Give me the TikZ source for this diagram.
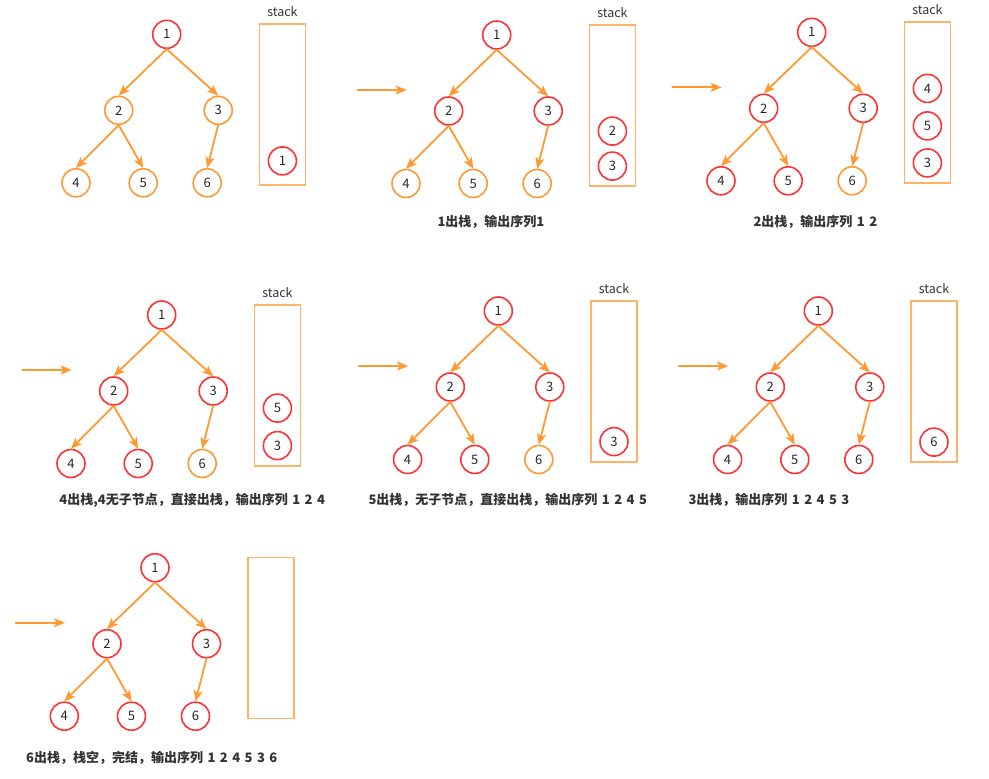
\documentclass[tikz,border=0pt]{standalone}
\usepackage{fontspec}
\setmainfont{Noto Sans CJK SC}[WordSpace=1.5]
\usetikzlibrary{arrows.meta, positioning}
\definecolor{treered}{HTML}{FF3333}
\definecolor{treeorange}{HTML}{FF9933}
\definecolor{stackorange}{HTML}{FFB366}
\definecolor{captiongray}{HTML}{333333}

\begin{document}
\begin{tikzpicture}[x=1pt, y=-1pt, line cap=round,
        treenode/.style={circle, line width=1.6pt, minimum size=28pt, inner sep=0pt, text=black!85, font=\fontsize{13}{13}\selectfont},
        rednode/.style={treenode, draw=treered},
        orangenode/.style={treenode, draw=treeorange},
        stackbox/.style={draw=stackorange, line width=1.6pt, minimum width=46pt, minimum height=161pt, inner sep=0pt},
        stacklabel/.style={inner sep=0pt, text=black!80, font=\fontsize{12.5}{12.5}\selectfont},
        edge/.style={treeorange, line width=1.8pt, -{Stealth[length=11pt, width=9pt, inset=2.5pt]}},
        caption/.style={anchor=west, inner sep=0pt, text=captiongray, font=\fontsize{13}{13}\selectfont\bfseries}]
        \useasboundingbox (0,0) rectangle (989,779);
        \foreach \n/\x/\y/\r/\lab in {1/166.7/34.3/1/stack, 2/496.7/35/3/stack, 3/811.7/32.3/5/stack, 4/161.7/315/5/stack, 5/498.3/311/5/stack, 6/818.3/311/6/stack, 7/155/567.7/6/{}} {
            \begin{scope}[shift={(\x,\y)}]
                \foreach \k/\a/\b in {1/0/0, 2/-48/76, 3/51.5/76, 4/-90.7/148.5, 5/-23.5/148.5, 6/40.5/148.5} {
                    \ifnum\k>\r \def\c{orangenode}\else\def\c{rednode}\fi
                    \node[\c] (t\n-\k) at (\a,\b) {\k};
                }
                \foreach \s/\e in {1/2, 1/3, 2/4, 2/5, 3/6}
                    \draw[edge] (t\n-\s.south) -- (t\n-\e.north);
                \node[stackbox] (r\n) at (115.7,70.3) {};
                \node[stacklabel, above=6pt of r\n] (l\n) {\lab};
                \ifnum\n>1
                    \coordinate (a\n) at (-139.4,55);
                    \coordinate (b\n) at (-90,55);
                    \draw[edge] (a\n) -- (b\n);
                \fi
            \end{scope}
        }
        \foreach \p/\s/\d in {1/1/25, 2/3/20.5, 2/2/55.5, 3/3/21, 3/5/58, 3/4/95.5, 4/3/21, 4/5/58.5, 5/3/21, 6/6/20.5}
            \node[rednode] (s\p-\s) at ([yshift=\d pt]r\p.south) {\s};
        \node[caption] (c2) at (437.3,221.7) {1出栈，输出序列1};
        \node[caption] (c3) at (753.3,221.7) {2出栈，输出序列 1 2};
        \node[caption] (c4) at (59.3,500.7) {4出栈,4无子节点，直接出栈，输出序列 1 2 4};
        \node[caption] (c5) at (368.3,500) {5出栈，无子节点，直接出栈，输出序列 1 2 4 5};
        \node[caption] (c6) at (688.3,500) {3出栈，输出序列 1 2 4 5 3};
        \node[caption] (c7) at (26,758.3) {6出栈，栈空，完结，输出序列 1 2 4 5 3 6};
    \end{tikzpicture}
\end{document}
